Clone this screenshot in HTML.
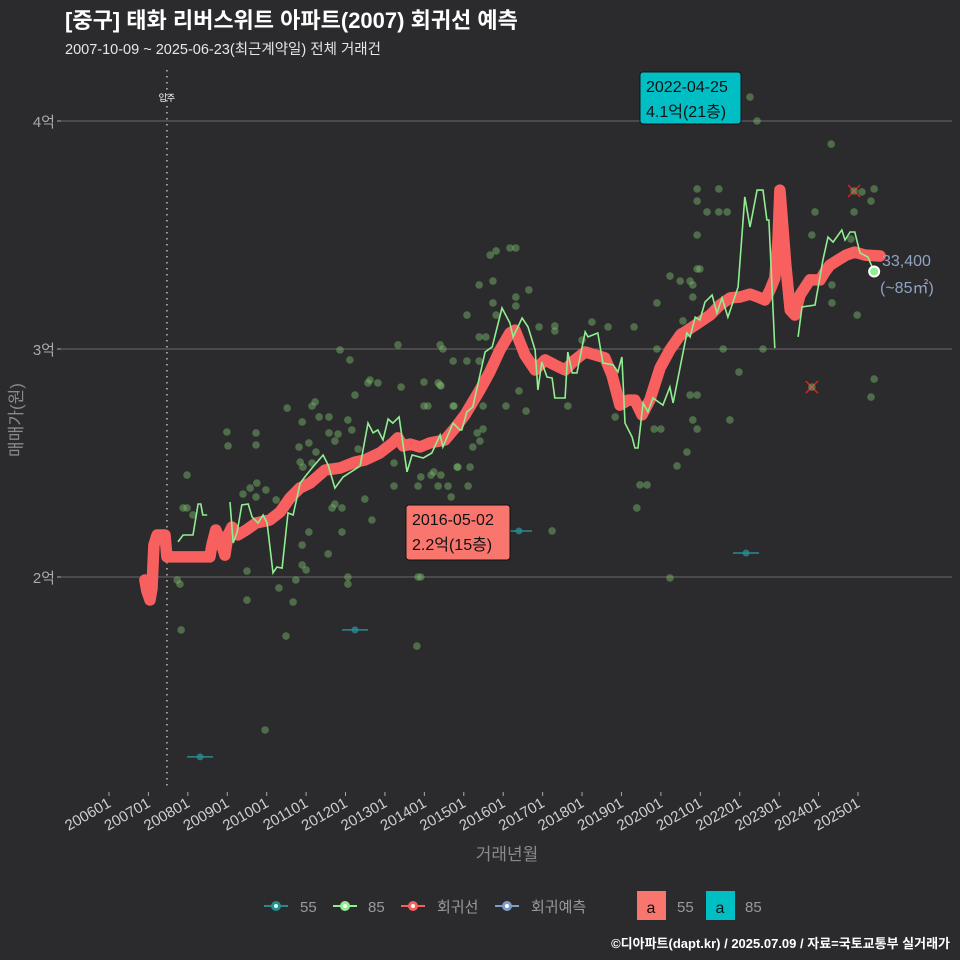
<!DOCTYPE html>
<html><head><meta charset="utf-8">
<style>
html,body{margin:0;padding:0;background:#2b2a2d;}
svg{display:block;font-family:"Liberation Sans","Noto Sans CJK KR",sans-serif;}
</style></head>
<body>
<svg id="chart" width="960" height="960" viewBox="0 0 960 960" xmlns="http://www.w3.org/2000/svg">
<rect width="960" height="960" fill="#2b2a2d"/>
<text x="65" y="28" fill="#ffffff" font-size="22" font-weight="bold">[중구] 태화 리버스위트 아파트(2007) 회귀선 예측</text>
<text x="65" y="54" fill="#e6e6e6" font-size="14.5">2007-10-09 ~ 2025-06-23(최근계약일) 전체 거래건</text>
<g id="grid"></g>
<g id="marks"></g>
<g id="axes"></g>
<text x="0" y="0" transform="translate(22,420) rotate(-90)" text-anchor="middle" fill="#8a8a8a" font-size="17">매매가(원)</text>
<text x="507" y="860" text-anchor="middle" fill="#8a8a8a" font-size="17">거래년월</text>
<g font-size="15" fill="#9a9a9a">
 <g><line x1="264" y1="906" x2="288" y2="906" stroke="#2b8a8e" stroke-width="2"/><circle cx="276" cy="906" r="5" fill="#2b8a8e"/><circle cx="276" cy="906" r="2" fill="#cfe"/><text x="300" y="912">55</text></g>
 <g><line x1="333" y1="906" x2="357" y2="906" stroke="#90ee90" stroke-width="2"/><circle cx="345" cy="906" r="5" fill="#90ee90"/><circle cx="345" cy="906" r="2" fill="#fff"/><text x="368" y="912">85</text></g>
 <g><line x1="401" y1="906" x2="425" y2="906" stroke="#f8605f" stroke-width="2"/><circle cx="413" cy="906" r="5" fill="#f8605f"/><circle cx="413" cy="906" r="2" fill="#fff"/><text x="437" y="912">회귀선</text></g>
 <g><line x1="495" y1="906" x2="519" y2="906" stroke="#7f9cc8" stroke-width="2"/><circle cx="507" cy="906" r="5" fill="#7f9cc8"/><circle cx="507" cy="906" r="2" fill="#fff"/><text x="531" y="912">회귀예측</text></g>
 <g><rect x="637" y="891" width="29" height="29" fill="#f8766d"/><text x="651" y="913" text-anchor="middle" fill="#111" font-size="16">a</text><text x="677" y="912">55</text></g>
 <g><rect x="706" y="891" width="29" height="29" fill="#00bfc4"/><text x="720" y="913" text-anchor="middle" fill="#111" font-size="16">a</text><text x="745" y="912">85</text></g>
</g>
<text x="950" y="948" text-anchor="end" fill="#ffffff" font-size="13" font-weight="bold">©디아파트(dapt.kr) / 2025.07.09 / 자료=국토교통부 실거래가</text>
</svg>
<script>
const xTickLabels=["200601","200701","200801","200901","201001","201101","201201","201301","201401","201501","201601","201701","201801","201901","202001","202101","202201","202301","202401","202501"];
const yTickValues=[20000,30000,40000];
const yTickLabels=["2억","3억","4억"];
const moveInYear=2007.47;
const regT=[2006.91,2006.96,2007.04,2007.09,2007.14,2007.22,2007.42,2007.47,2007.67,2008.56,2008.61,2008.71,2008.82,2008.94,2009.02,2009.12,2009.27,2009.48,2009.73,2010.08,2010.34,2010.59,2010.84,2011.10,2011.48,2011.86,2012.24,2012.49,2012.87,2013.20,2013.33,2013.46,2013.64,2013.89,2014.14,2014.52,2014.78,2015.03,2015.41,2015.66,2015.92,2016.17,2016.30,2016.55,2016.81,2017.06,2017.31,2017.57,2017.82,2018.08,2018.33,2018.58,2018.76,2018.96,2019.17,2019.34,2019.52,2019.72,2019.98,2020.23,2020.49,2020.87,2021.25,2021.50,2021.76,2022.01,2022.26,2022.46,2022.64,2022.77,2022.89,2022.97,2023.02,2023.07,2023.17,2023.28,2023.40,2023.53,2023.78,2024.04,2024.16,2024.29,2024.49,2024.70,2024.92,2025.18,2025.56];
const regV=[19870,19400,18990,19500,21400,21840,21840,20880,20880,20880,21400,22060,21620,20960,21840,22190,21840,22060,22370,22500,22850,23460,23900,24120,24690,24780,25040,25130,25440,25880,26100,25750,25830,25700,25880,26010,26540,27110,28200,28990,29960,30700,30830,29740,29080,29520,29300,29080,29520,29870,29740,29610,28860,27540,27760,27760,27110,27760,29170,29960,30610,31050,31490,31930,32240,32280,32410,32280,32150,32590,33110,34780,36970,35880,33680,31710,31490,32370,33030,33030,33380,33680,33900,34120,34250,34120,34080];
const g1T=[2007.75,2007.88,2008.13,2008.26,2008.33,2008.38,2008.49];
const g1V=[21540,21840,21840,23200,23200,22720,22720];
const g2T=[2009.07,2009.15,2009.25,2009.37,2009.53,2009.63,2009.78,2009.91,2010.01,2010.16,2010.26,2010.39,2010.54,2010.67,2010.85,2010.97,2011.15,2011.43,2011.56,2011.73,2011.94,2012.37,2012.57,2012.70,2012.82,2012.95,2013.08,2013.20,2013.36,2013.56,2013.69,2013.97,2014.19,2014.40,2014.47,2014.73,2014.90,2014.95,2015.08,2015.23,2015.54,2015.72,2015.97,2016.17,2016.25,2016.48,2016.63,2016.81,2016.88,2016.98,2017.11,2017.24,2017.31,2017.57,2017.64,2017.75,2017.87,2018.08,2018.15,2018.40,2018.53,2018.79,2018.91,2019.01,2019.09,2019.27,2019.34,2019.42,2019.55,2019.67,2019.80,2020.05,2020.23,2020.31,2020.66,2020.74,2020.87,2020.99,2021.12,2021.30,2021.42,2021.55,2021.70,2021.96,2022.13,2022.26,2022.44,2022.59,2022.69,2022.74,2022.89];
const g2V=[23290,21490,21970,23160,23200,22630,22370,22720,22370,20180,20440,20390,22810,22720,24120,24390,24780,25350,24910,23900,24390,24870,26750,26320,26450,26010,26930,26750,27020,24610,25350,25220,25440,26230,25700,26750,26450,26450,27240,27460,29870,30090,31800,31140,30530,31360,30970,29960,28200,29430,28770,28730,27850,27850,29870,28950,28950,30750,30530,30700,29390,29300,28990,29650,26750,26140,25660,25660,27630,27240,27850,27540,28330,27630,30700,30530,31400,31270,32060,32370,31580,32240,31400,32720,36670,35350,36970,36970,35660,35660,30040];
const g3T=[2023.48,2023.58,2023.91,2024.11,2024.24,2024.37,2024.59,2024.67,2024.80,2024.92,2025.05,2025.25,2025.36,2025.41];
const g3V=[30530,31840,31930,33900,34910,34690,35220,34780,35130,35130,34210,34040,33600,33400];
const sT=[2007.73,2007.80,2007.98,2007.88,2007.98,2008.13,2009.50,2009.50,2009.40,2009.58,2009.75,2009.73,2009.98,2009.73,2009.73,2010.24,2010.31,2010.67,2010.74,2010.90,2010.90,2011.00,2011.07,2010.90,2011.15,2011.23,2010.82,2011.07,2010.85,2010.92,2011.15,2011.25,2011.33,2011.58,2011.58,2011.73,2011.81,2012.06,2012.16,2012.24,2012.32,2012.06,2012.06,2011.91,2011.56,2011.66,2011.73,2011.91,2012.49,2012.67,2013.23,2013.23,2013.84,2013.91,2014.17,2014.24,2014.42,2014.35,2014.60,2014.68,2014.85,2015.11,2013.99,2014.09,2013.99,2014.35,2014.42,2014.75,2013.41,2012.57,2012.82,2013.84,2013.91,2009.96,2010.49,2007.83,2008.99,2009.02,2010.52,2011.86,2012.11,2012.62,2013.81,2013.33,2014.40,2015.67,2015.82,2016.17,2016.32,2015.39,2015.74,2016.65,2016.32,2015.74,2016.32,2015.08,2015.82,2015.39,2015.56,2016.91,2017.31,2017.31,2018.25,2018.66,2019.32,2014.47,2014.73,2015.08,2015.39,2018.00,2019.90,2020.23,2020.49,2020.74,2020.81,2020.92,2020.81,2020.56,2020.49,2019.90,2020.16,2016.40,2016.07,2016.58,2017.64,2014.40,2014.73,2015.49,2015.34,2015.49,2015.41,2015.23,2014.83,2015.16,2018.84,2019.83,2020.00,2020.66,2020.41,2020.74,2020.92,2020.81,2020.92,2020.92,2021.47,2020.92,2021.17,2021.47,2021.68,2020.92,2020.99,2021.58,2022.59,2021.98,2023.91,2023.83,2024.90,2025.10,2025.41,2025.33,2024.34,2024.34,2024.82,2024.98,2025.41,2025.33,2022.26,2022.44,2024.32,2020.23,2019.47,2019.65,2019.39,2021.75,2017.24];
const sV=[19870,19690,24470,23030,23030,22720,20260,18990,23640,23900,24120,23510,23820,26320,25790,23380,19520,18900,19870,21400,20530,20310,21970,26800,27500,27680,25700,25880,25040,24820,25000,25480,27020,27020,26320,25960,26270,26890,26450,27980,25610,20000,19690,21970,21010,23030,23200,23030,23420,22500,23990,25000,23990,24390,24470,24610,24470,23990,23990,23510,24820,23990,27500,27500,28550,28510,28380,27500,28330,28510,28510,20000,20000,13290,17410,17680,26360,25750,27410,29960,29520,28640,16970,30180,30180,34120,34300,34430,34430,32810,32980,32590,32280,32020,31890,31490,31490,30530,30530,30970,31010,30790,31180,30970,30970,30000,29470,29470,29470,30390,32020,33200,32980,32980,32810,33510,32280,31230,30750,30000,29780,28160,27500,27280,27500,28420,27500,27500,26320,26490,25960,25700,24820,24820,27020,26490,26490,25480,24870,27980,27980,26890,26490,37020,37020,36490,36010,36010,36010,35000,33510,30000,30000,28990,36010,35000,36010,36890,37020,36490,32810,32020,34820,31490,28680,27890,41050,40000,38990,19960,24040,24040,23030,26890,22020];
const xT=[2024.90,2023.83];
const xV=[36930,28330];
const s55T=[2008.31,2012.24,2016.40,2022.16];
const s55V=[12110,17680,22020,21050];

const NS="http://www.w3.org/2000/svg";
const X=t=>109+(t-2006)*39.42;
const Y=v=>577-(v-20000)*0.0228;
function mk(tag,attrs,parent){const e=document.createElementNS(NS,tag);for(const k in attrs)e.setAttribute(k,attrs[k]);parent.appendChild(e);return e;}
const grid=document.getElementById('grid'),marks=document.getElementById('marks'),axes=document.getElementById('axes');
yTickValues.forEach((v,i)=>{
 const l=mk('line',{x1:60,x2:952,y1:Y(v),y2:Y(v),stroke:'#6a6a6a','stroke-width':1},grid);
 
 
 const tk=mk('line',{x1:57,x2:61,y1:Y(v),y2:Y(v),stroke:'#aaa'},axes);
 
 
 const t=mk('text',{x:55,y:Y(v)+6,'text-anchor':'end',fill:'#aaaaaa','font-size':15},axes);
 t.textContent=yTickLabels[i];
 
 
});
xTickLabels.forEach((lab,i)=>{
 const x=X(2006+i);
 const tk=mk('line',{x1:x,x2:x,y1:792,y2:796,stroke:'#aaa'},axes);
 
 
 const t=mk('text',{x:x+3,y:806,'text-anchor':'end',fill:'#cfcfcf','font-size':15,transform:`rotate(-30 ${x+3} 806)`},axes);
 t.textContent=lab;
 
 
});
const mv=mk('line',{x1:X(moveInYear),x2:X(moveInYear),y1:70,y2:790,stroke:'#bbbbbb','stroke-width':1.5,'stroke-dasharray':'1.5 4.5'},marks);


const mvt=mk('text',{x:X(moveInYear),y:101,'text-anchor':'middle',fill:'#fff','font-size':9},marks);
mvt.textContent='입주';


sT.forEach((t,i)=>{
 const c=mk('circle',{cx:X(t),cy:Y(sV[i]),r:3.8,fill:'#78b86a','fill-opacity':0.48},marks);
 
 
});
s55T.forEach((t,i)=>{
 const l=mk('line',{x1:X(t-0.33),x2:X(t+0.33),y1:Y(s55V[i]),y2:Y(s55V[i]),stroke:'#2b8a8e','stroke-width':1.5},marks);
 
 
 const c=mk('circle',{cx:X(t),cy:Y(s55V[i]),r:3.5,fill:'#2b8a8e','fill-opacity':0.8},marks);
 
 
});
function path(T,V){return T.map((t,i)=>(i?'L':'M')+X(t).toFixed(1)+' '+Y(V[i]).toFixed(1)).join(' ');}
const reg=mk('path',{d:path(regT,regV),fill:'none',stroke:'#f8605f','stroke-width':11.5,'stroke-linejoin':'round','stroke-linecap':'round'},marks);


[[g1T,g1V],[g2T,g2V],[g3T,g3V]].forEach(([T,V],i)=>{
 const p=mk('path',{d:path(T,V),fill:'none',stroke:'#90ee90','stroke-width':1.6},marks);
 
 
});
xT.forEach((t,i)=>{
 const x=X(t),y=Y(xV[i]);
 const g=mk('path',{d:`M${x-6} ${y-6}L${x+6} ${y+6}M${x+6} ${y-6}L${x-6} ${y+6}`,stroke:'#e02020','stroke-width':1.5},marks);
 
 
 const c=mk('circle',{cx:x,cy:y,r:3.8,fill:'#78b86a','fill-opacity':0.48},marks);
 
 
});
const lt=g3T[g3T.length-1],lv=g3V[g3V.length-1];
const ed=mk('circle',{cx:X(lt),cy:Y(lv),r:5,fill:'#90ee90',stroke:'#ffffff','stroke-width':2},marks);


const e1=mk('text',{x:882,y:266,fill:'#8fa3c2','font-size':16},marks);
e1.textContent='33,400';


const e2=mk('text',{x:880,y:293,fill:'#8fa3c2','font-size':16},marks);
e2.textContent='(~85㎡)';


function ann(x,y,w,h,fill,l1,l2,name){
 const g=mk('g',{},marks);
 
 
 mk('rect',{x:x,y:y,width:w,height:h,rx:3,fill:fill,stroke:'#111','stroke-width':1},g);
 const a=mk('text',{x:x+6,y:y+20,fill:'#111','font-size':16},g);a.textContent=l1;
 const b=mk('text',{x:x+6,y:y+45,fill:'#111','font-size':16},g);b.textContent=l2;
}
ann(640,72,101,52,'#00bfc4','2022-04-25','4.1억(21층)','max-annotation');
ann(406,505,104,55,'#f8766d','2016-05-02','2.2억(15층)','min-annotation');
</script>
</body></html>
